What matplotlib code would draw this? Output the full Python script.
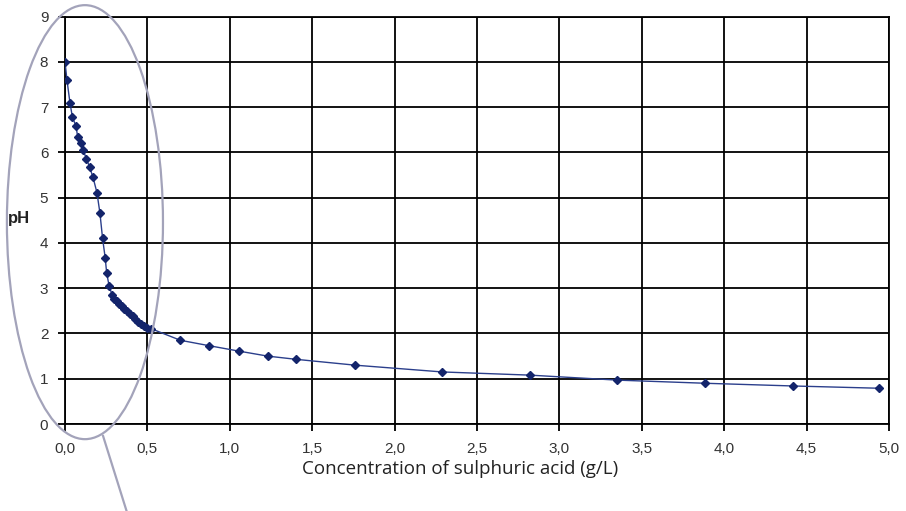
import numpy as np
import matplotlib
matplotlib.use('agg')
import matplotlib.pyplot as plt
from matplotlib.patches import Ellipse
from matplotlib.ticker import FuncFormatter

conc = [0.0, 0.012, 0.03, 0.045, 0.067, 0.077, 0.095, 0.11, 0.13, 0.15,
        0.17, 0.194, 0.212, 0.228, 0.244, 0.253, 0.268, 0.285, 0.30, 0.317,
        0.327, 0.343, 0.36, 0.378, 0.394, 0.41, 0.424, 0.44, 0.459, 0.479,
        0.50, 0.52, 0.70, 0.875, 1.056, 1.23, 1.40, 1.76, 2.29, 2.82,
        3.35, 3.886, 4.42, 4.94]
ph = [8.0, 7.6, 7.1, 6.78, 6.58, 6.34, 6.22, 6.05, 5.86, 5.67,
      5.45, 5.11, 4.66, 4.10, 3.67, 3.33, 3.05, 2.86, 2.77, 2.72,
      2.66, 2.60, 2.55, 2.49, 2.44, 2.38, 2.33, 2.26, 2.21, 2.16,
      2.13, 2.11, 1.85, 1.73, 1.61, 1.50, 1.43, 1.30, 1.15, 1.08,
      0.97, 0.90, 0.84, 0.79]

x_ticks = [0.0, 0.5, 1.0, 1.5, 2.0, 2.5, 3.0, 3.5, 4.0, 4.5, 5.0]
y_ticks = [0, 1, 2, 3, 4, 5, 6, 7, 8, 9]

W, H = 906, 511
fig = plt.figure(figsize=(W/100, H/100), dpi=100)
ax = fig.add_axes([65/W, 1-424/H, (889-65)/W, (424-16.7)/H])

ax.plot(conc, ph, color='#2b3f8c', lw=1.0, marker='D', ms=3.8,
        mfc='#13246b', mec='#13246b', zorder=3)

ax.set_xlim(0, 5)
ax.set_ylim(0, 9)
ax.set_xticks(x_ticks)
ax.set_yticks(y_ticks)
ax.xaxis.set_major_formatter(FuncFormatter(lambda v, p: f'{v:.1f}'.replace('.', ',')))
ax.grid(True, color='black', lw=1.3)
ax.set_axisbelow(True)
for s in ax.spines.values():
    s.set_color('black')
    s.set_linewidth(1.3)
ax.tick_params(axis='x', length=5, width=1.3, pad=8, labelsize=11, labelcolor='#333333')
ax.tick_params(axis='y', length=5, width=1.3, pad=7, labelsize=11, labelcolor='#333333')
for lab in ax.get_xticklabels() + ax.get_yticklabels():
    lab.set_fontfamily('Liberation Sans')

fig.text(460/W, 1-469/H, 'Concentration of sulphuric acid (g/L)', ha='center', va='center',
         fontsize=13.5, family='Open Sans', color='#222222')
fig.text(30/W, 1-218/H, 'pH', ha='right', va='center', fontsize=12,
         fontweight='bold', family='Liberation Sans', color='#222222')

# grey ellipse marking the steep part + pointer line
ell = Ellipse((0.121, 4.46), 0.947, 9.59, fill=False, ec='#a3a3ba', lw=1.6,
              clip_on=False, zorder=4)
ax.add_patch(ell)
ax.plot([0.231, 0.376], [-0.265, -1.95], color='#a3a3ba', lw=1.6, clip_on=False, zorder=4)

fig.savefig('out.png', dpi=100)
